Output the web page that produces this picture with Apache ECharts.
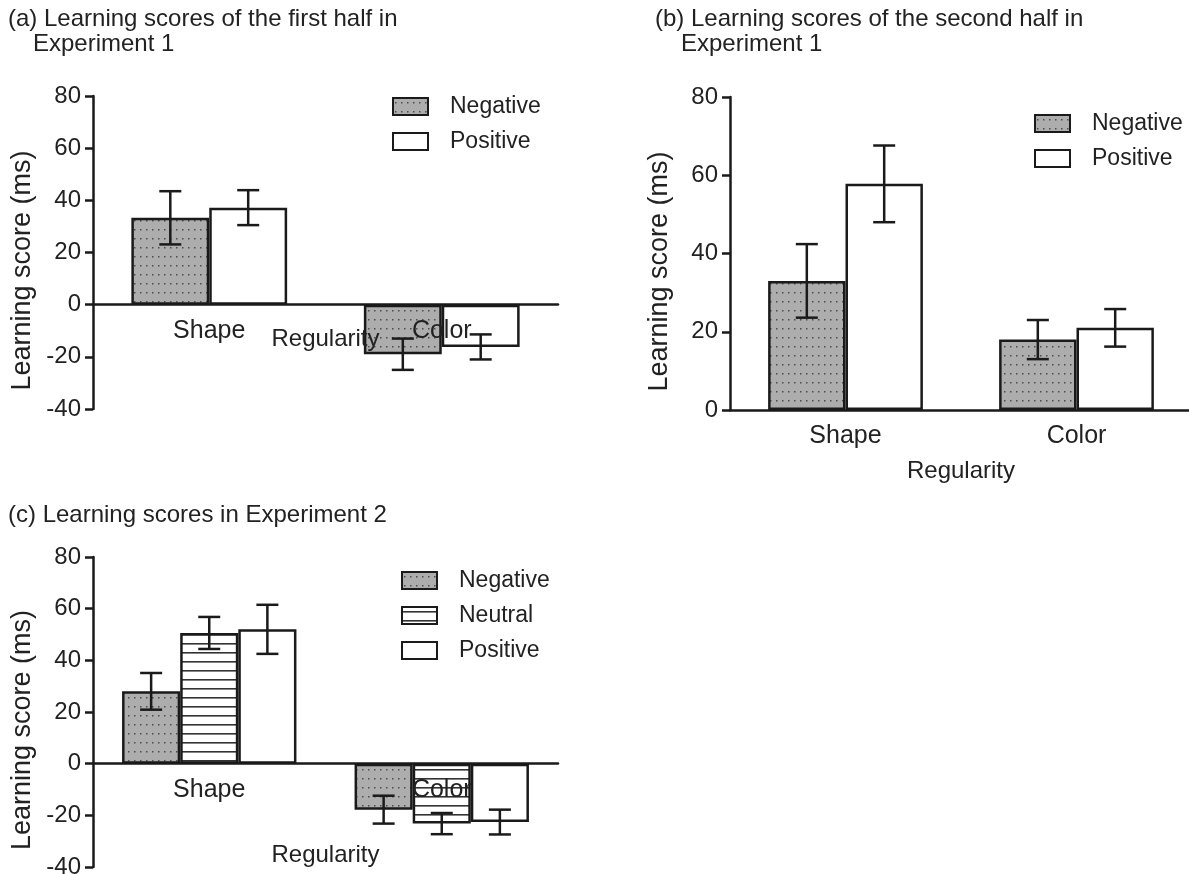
<!DOCTYPE html>
<html>
<head>
<meta charset="utf-8">
<script src="https://cdn.jsdelivr.net/npm/echarts@6/dist/echarts.min.js"></script>
<style>
html, body { margin: 0; padding: 0; background: #fff; }
#chart { width: 1189px; height: 874px; }
</style>
</head>
<body>
<div id="chart"></div>
<script>
// Regularity categories shared by all three panels
const categories = ['Shape', 'Color'];

// (a) first half of Experiment 1: means and error half-widths (ms)
const aNegative = [33.3, -19.0];
const aNegativeErr = [10.2, 6.0];
const aPositive = [37.2, -16.2];
const aPositiveErr = [6.7, 4.8];

// (b) second half of Experiment 1
const bNegative = [33.0, 18.0];
const bNegativeErr = [9.4, 5.0];
const bPositive = [57.8, 21.0];
const bPositiveErr = [9.8, 4.8];

// (c) Experiment 2
const cNegative = [28.0, -17.8];
const cNegativeErr = [7.1, 5.4];
const cNeutral = [50.6, -23.2];
const cNeutralErr = [6.2, 4.1];
const cPositive = [52.0, -22.6];
const cPositiveErr = [9.5, 4.8];

// Value-axis ranges (ms)
const rangeA = [-40, 80];
const rangeB = [0, 80];
const rangeC = [-40, 80];

const FONT = "'Liberation Sans', Arial, Helvetica, sans-serif";
const INK = '#1a1a1a';
const TEXT = '#222';

// Fill patterns: dotted grey for Negative, horizontal hatching for Neutral
function dotPattern() {
  const c = document.createElement('canvas');
  c.width = 6; c.height = 9;
  const g = c.getContext('2d');
  g.fillStyle = '#adadad';
  g.fillRect(0, 0, 6, 9);
  g.fillStyle = '#4d4d4d';
  g.fillRect(2, 4, 1.5, 1.5);
  return { image: c, repeat: 'repeat' };
}
function stripePattern() {
  const c = document.createElement('canvas');
  c.width = 8; c.height = 9;
  const g = c.getContext('2d');
  g.fillStyle = '#ffffff';
  g.fillRect(0, 0, 8, 9);
  g.fillStyle = '#333333';
  g.fillRect(0, 4, 8, 1.6);
  return { image: c, repeat: 'repeat' };
}
const FILL = {
  Negative: dotPattern(),
  Neutral: stripePattern(),
  Positive: '#ffffff'
};

function barSeries(gridIdx, name, values, gap) {
  return {
    type: 'bar',
    name: name,
    xAxisIndex: gridIdx,
    yAxisIndex: gridIdx,
    data: values,
    barGap: '0%',
    barCategoryGap: gap + '%',
    z: 2,
    itemStyle: { color: FILL[name], borderColor: INK, borderWidth: 2.5 },
    emphasis: { disabled: true }
  };
}

// Error bars centred on each bar of a group
function errorSeries(gridIdx, values, errs, slot, nSlots, gap) {
  return {
    type: 'custom',
    xAxisIndex: gridIdx,
    yAxisIndex: gridIdx,
    z: 6,
    silent: true,
    encode: { x: 0, y: [1, 2] },
    data: values.map((v, i) => [i, v - errs[i], v + errs[i]]),
    renderItem: function (params, api) {
      const idx = api.value(0);
      const lo = api.coord([idx, api.value(1)]);
      const hi = api.coord([idx, api.value(2)]);
      const cat = api.size([1, 0])[0];
      const bw = cat * (1 - gap / 100) / nSlots;
      const cx = lo[0] + (slot - (nSlots - 1) / 2) * bw;
      const half = 11;
      const style = { stroke: INK, lineWidth: 2.5, fill: null };
      return {
        type: 'group',
        children: [
          { type: 'line', shape: { x1: cx, y1: lo[1], x2: cx, y2: hi[1] }, style: style },
          { type: 'line', shape: { x1: cx - half, y1: lo[1], x2: cx + half, y2: lo[1] }, style: style },
          { type: 'line', shape: { x1: cx - half, y1: hi[1], x2: cx + half, y2: hi[1] }, style: style }
        ]
      };
    }
  };
}

// Category axis sits on the zero line: shift it up from the grid bottom
function xAxisFor(gridIdx, gridHeight, range, nameGap) {
  const lift = gridHeight * (0 - range[0]) / (range[1] - range[0]);
  return {
    type: 'category',
    gridIndex: gridIdx,
    data: categories,
    z: 10,
    offset: -lift,
    axisLine: { onZero: false, lineStyle: { color: INK, width: 2.5 } },
    axisTick: { alignWithLabel: true, length: 10, lineStyle: { color: INK, width: 2.5 } },
    axisLabel: { fontFamily: FONT, fontSize: 25, color: TEXT, margin: 14 },
    splitLine: { show: false },
    name: 'Regularity',
    nameLocation: 'middle',
    nameGap: nameGap,
    nameMoveOverlap: false,
    nameTextStyle: { fontFamily: FONT, fontSize: 24, color: TEXT }
  };
}

function yAxisFor(gridIdx, range) {
  return {
    type: 'value',
    gridIndex: gridIdx,
    min: range[0],
    max: range[1],
    interval: 20,
    axisLine: { show: true, onZero: false, lineStyle: { color: INK, width: 2.5 } },
    axisTick: { show: true, length: 8, lineStyle: { color: INK, width: 2.5 } },
    axisLabel: { fontFamily: FONT, fontSize: 24, color: TEXT, margin: 12 },
    splitLine: { show: false },
    name: 'Learning score (ms)',
    nameLocation: 'middle',
    nameRotate: 90,
    nameGap: 57,
    nameTextStyle: { fontFamily: FONT, fontSize: 27, color: TEXT, padding: [0, 36, 0, 0] }
  };
}

function legendFor(left, top, names) {
  return {
    left: left,
    top: top,
    orient: 'vertical',
    data: names,
    icon: 'rect',
    itemWidth: 35,
    itemHeight: 17,
    itemGap: 12,
    selectedMode: false,
    textStyle: { fontFamily: FONT, fontSize: 23, color: TEXT, padding: [0, 0, 0, 17] }
  };
}

function titleAt(text, left, top) {
  return {
    text: text,
    left: left,
    top: top,
    padding: 0,
    textStyle: { fontFamily: FONT, fontSize: 24, fontWeight: 'normal', color: TEXT }
  };
}

const GAP2 = 33;
const GAP3 = 25;

const gridA = { left: 93, top: 96, width: 465, height: 313, outerBoundsMode: 'none' };
const gridB = { left: 730, top: 97, width: 462, height: 313, outerBoundsMode: 'none' };
const gridC = { left: 93, top: 557, width: 465, height: 310, outerBoundsMode: 'none' };

const option = {
  animation: false,
  backgroundColor: '#fff',
  title: [
    titleAt('(a) Learning scores of the first half in', 8, 7),
    titleAt('Experiment 1', 33, 32),
    titleAt('(b) Learning scores of the second half in', 655, 7),
    titleAt('Experiment 1', 681, 32),
    titleAt('(c) Learning scores in Experiment 2', 8, 503)
  ],
  legend: [
    legendFor(387, 90, ['Negative', 'Positive']),
    legendFor(1029, 107, ['Negative', 'Positive']),
    legendFor(396, 564, ['Negative', 'Neutral', 'Positive'])
  ],
  grid: [gridA, gridB, gridC],
  xAxis: [
    xAxisFor(0, gridA.height, rangeA, 23),
    xAxisFor(1, gridB.height, rangeB, 49),
    xAxisFor(2, gridC.height, rangeC, 80)
  ],
  yAxis: [yAxisFor(0, rangeA), yAxisFor(1, rangeB), yAxisFor(2, rangeC)],
  series: [
    barSeries(0, 'Negative', aNegative, GAP2),
    barSeries(0, 'Positive', aPositive, GAP2),
    errorSeries(0, aNegative, aNegativeErr, 0, 2, GAP2),
    errorSeries(0, aPositive, aPositiveErr, 1, 2, GAP2),

    barSeries(1, 'Negative', bNegative, GAP2),
    barSeries(1, 'Positive', bPositive, GAP2),
    errorSeries(1, bNegative, bNegativeErr, 0, 2, GAP2),
    errorSeries(1, bPositive, bPositiveErr, 1, 2, GAP2),

    barSeries(2, 'Negative', cNegative, GAP3),
    barSeries(2, 'Neutral', cNeutral, GAP3),
    barSeries(2, 'Positive', cPositive, GAP3),
    errorSeries(2, cNegative, cNegativeErr, 0, 3, GAP3),
    errorSeries(2, cNeutral, cNeutralErr, 1, 3, GAP3),
    errorSeries(2, cPositive, cPositiveErr, 2, 3, GAP3)
  ]
};

const chart = echarts.init(document.getElementById('chart'), null, { renderer: 'canvas' });
chart.setOption(option);
</script>
</body>
</html>
